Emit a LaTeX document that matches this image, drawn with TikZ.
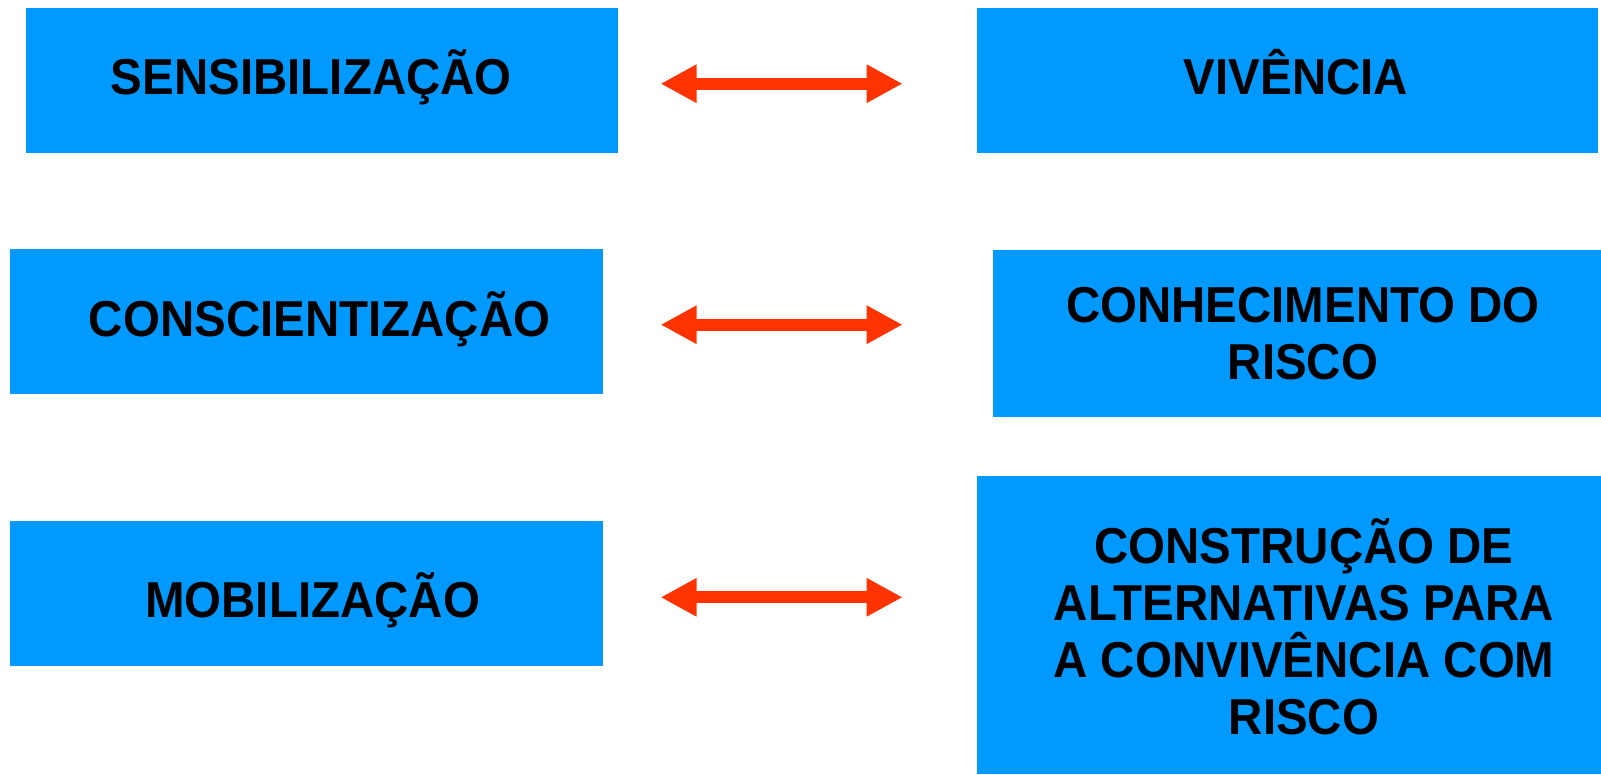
\documentclass[tikz,border=0pt]{standalone}
\usepackage{fontspec}
\setmainfont{Liberation Sans}[FakeStretch=0.94]
\usetikzlibrary{arrows.meta}
\definecolor{boxblue}{RGB}{0,153,255}
\definecolor{arrred}{RGB}{255,51,0}
\begin{document}
\begin{tikzpicture}[x=1pt,y=-1pt,
  box/.style={fill=boxblue,draw=none,inner sep=0pt,outer sep=0pt,anchor=north west},
  lbl/.style={font=\fontsize{50.5}{57}\selectfont\bfseries,text=black,inner sep=0pt,align=center,anchor=base},
  dblarrow/.style={draw=arrred,line width=11.7pt,
    {Triangle[length=36pt,width=36pt]}-{Triangle[length=36pt,width=36pt]}}]
\useasboundingbox (0,0) rectangle (1601,774);
% boxes
\node[box,minimum width=592.2pt,minimum height=145pt] (b1) at (25.5,8.2) {};
\node[box,minimum width=621pt,minimum height=145pt] (b2) at (977,8.2) {};
\node[box,minimum width=593.2pt,minimum height=145pt] (b3) at (10.2,249) {};
\node[box,minimum width=608.5pt,minimum height=166.6pt] (b4) at (992.5,250) {};
\node[box,minimum width=593.2pt,minimum height=145pt] (b5) at (10.2,520.7) {};
\node[box,minimum width=624pt,minimum height=298.2pt] (b6) at (977,475.8) {};
% labels
\node[lbl] (t1) at (311.4,94.3) {SENSIBILIZAÇÃO};
\node[lbl] (t2) at (1296,94.3) {VIVÊNCIA};
\node[lbl] (t3) at (319.7,336) {CONSCIENTIZAÇÃO};
\node[lbl] (t4) at (312.5,617) {MOBILIZAÇÃO};
\node[lbl] (t5) at (1303,379.3) {CONHECIMENTO DO\\RISCO};
\node[lbl] (t6) at (1304,734) {CONSTRUÇÃO DE\\ALTERNATIVAS PARA\\A CONVIVÊNCIA COM\\RISCO};
% arrow ends
\coordinate (a1l) at (660.6,83.7);
\coordinate (a1r) at (902.6,83.7);
\coordinate (a2l) at (660.6,324.7);
\coordinate (a2r) at (902.6,324.7);
\coordinate (a3l) at (660.6,597.3);
\coordinate (a3r) at (902.6,597.3);
\draw[dblarrow] (a1l) -- (a1r);
\draw[dblarrow] (a2l) -- (a2r);
\draw[dblarrow] (a3l) -- (a3r);
\end{tikzpicture}
\end{document}
